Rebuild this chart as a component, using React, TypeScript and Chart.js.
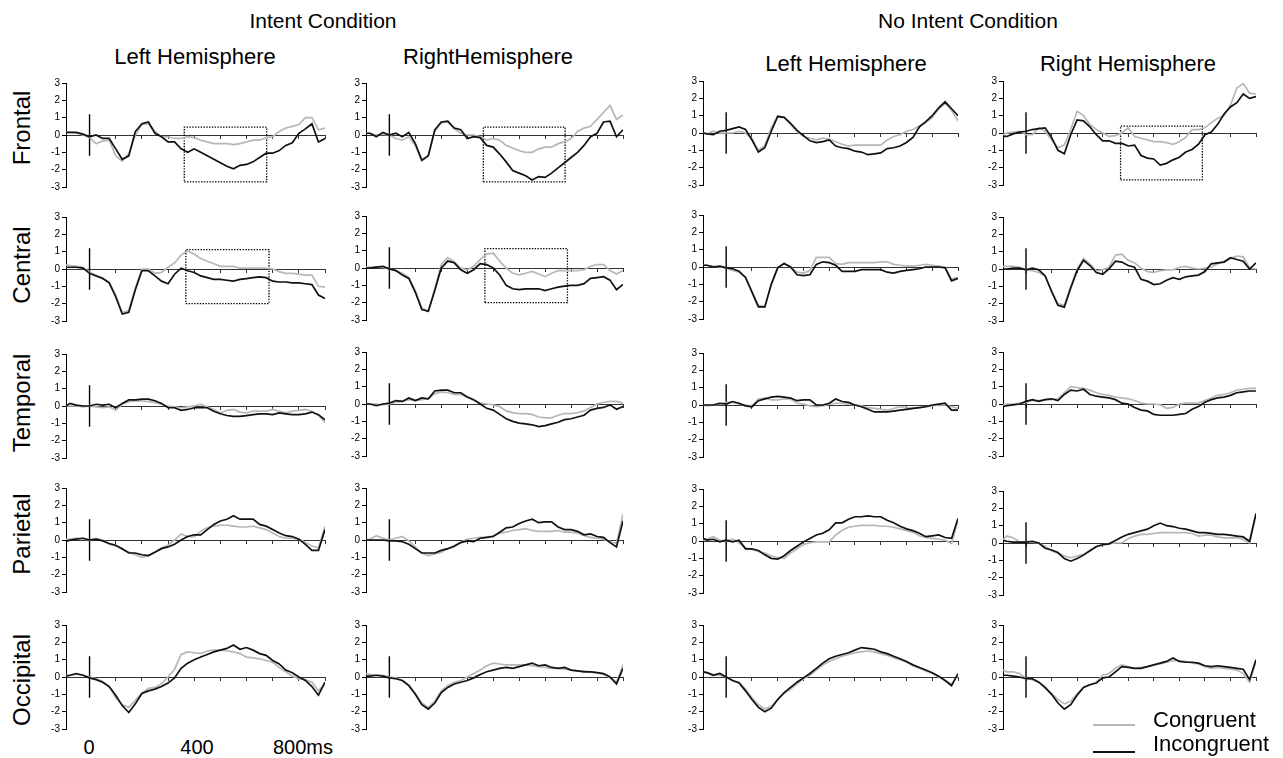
import React, { useEffect, useRef } from "react";
import { Chart, registerables } from "chart.js";
Chart.register(...registerables);

const FONT = '"Liberation Sans", Arial, Helvetica, sans-serif';
Chart.defaults.font.family = FONT;

// ---------- data ----------
const TIMES = [-90, -75, -50, -25, 0, 25, 50, 75, 100, 125, 150, 175, 200, 225, 250, 275, 300, 325, 350, 375, 400, 425, 450, 475, 500, 525, 550, 575, 600, 625, 650, 675, 700, 725, 750, 775, 800, 825, 850, 875, 900];
const X_TICKS = [0, 100, 200, 300, 400, 500, 600, 700, 800, 900];
const Y_TICKS = [-3, -2, -1, 0, 1, 2, 3];
const X_MIN = -90;
const X_MAX = 900;
const Y_MIN = -3;
const Y_MAX = 3;
const STIMULUS_MS = 0;
const STIMULUS_HALF = 1.2;

const CONDITIONS = ["Intent Condition", "No Intent Condition"];
const HEMISPHERES = ["Left Hemisphere", "RightHemisphere", "Left Hemisphere", "Right Hemisphere"];
const REGIONS = ["Frontal", "Central", "Temporal", "Parietal", "Occipital"];
const X_LABELS = ["0", "400", "800ms"];
const LEGEND_LABELS = ["Congruent", "Incongruent"];

// Frontal
const F_IL_CON = [0.15,0.15,0.1,0.0,-0.15, -0.5,-0.35,-0.3,-1.2,-1.5, -1.1,0.0,0.6,0.65,0.2, -0.1,-0.1,-0.2,-0.2,-0.1, -0.15,-0.3,-0.4,-0.5,-0.5, -0.5,-0.55,-0.5,-0.4,-0.3, -0.3,-0.15,-0.1,0.2,0.4, 0.5,0.6,1.0,1.0,0.3, 0.4];
const F_IL_INC = [0.15,0.15,0.15,0.05,-0.1, 0.0,-0.2,-0.2,-0.8,-1.4, -1.2,0.2,0.65,0.75,0.1, -0.1,-0.4,-0.4,-0.8,-1.0, -0.8,-1.0,-1.2,-1.4,-1.6, -1.8,-1.95,-1.75,-1.7,-1.55, -1.3,-1.05,-1.05,-0.9,-0.6, -0.45,0.1,0.35,0.65,-0.4, -0.2];
const F_IR_CON = [0.1,0.1,0.0,0.05,0.0, -0.2,-0.3,-0.1,-0.6,-1.5, -1.2,0.2,0.7,0.75,0.35, 0.1,0.0,0.0,-0.1,-0.3, -0.2,-0.3,-0.6,-0.75,-0.9, -1.0,-1.0,-0.8,-0.7,-0.7, -0.5,-0.4,-0.2,0.2,0.4, 0.5,0.9,1.3,1.7,0.9, 1.15];
const F_IR_INC = [0.1,0.1,-0.1,0.15,0.0, 0.1,-0.1,0.15,-0.5,-1.45, -1.2,0.3,0.75,0.8,0.4, 0.3,-0.2,-0.1,-0.15,-0.6, -0.7,-1.1,-1.55,-2.05,-2.2, -2.35,-2.6,-2.4,-2.45,-2.2, -1.9,-1.6,-1.3,-1.0,-0.6, -0.1,0.1,0.75,0.8,-0.1, 0.3];
const F_NL_CON = [0.0,-0.05,0.1,0.0,0.0, 0.0,0.1,0.0,-0.3,-1.0, -0.7,0.3,1.0,0.9,0.5, 0.1,-0.2,-0.3,-0.4,-0.3, -0.35,-0.5,-0.65,-0.75,-0.7, -0.7,-0.7,-0.7,-0.7,-0.4, -0.2,-0.1,0.1,0.2,0.4, 0.6,0.9,1.4,1.7,1.3, 0.7];
const F_NL_INC = [0.0,-0.05,-0.1,0.1,0.15, 0.25,0.35,0.2,-0.4,-1.1, -0.85,0.1,0.95,0.9,0.55, 0.15,-0.15,-0.45,-0.55,-0.5, -0.4,-0.75,-0.85,-0.9,-1.05, -1.1,-1.25,-1.2,-1.15,-0.9, -0.85,-0.75,-0.55,-0.25,0.35, 0.65,1.0,1.45,1.8,1.4, 1.0];
const F_NR_CON = [-0.1,0.0,0.05,0.1,-0.1, -0.1,0.3,0.1,-0.4,-0.85, -0.7,0.2,1.25,1.0,0.5, 0.2,0.0,-0.2,-0.15,0.0, 0.3,-0.2,-0.3,-0.4,-0.5, -0.5,-0.55,-0.65,-0.5,-0.25, 0.2,0.2,0.3,0.6,0.85, 1.0,1.6,2.6,2.85,2.3, 2.25];
const F_NR_INC = [-0.2,-0.2,-0.05,0.05,0.1, 0.2,0.25,0.3,-0.25,-1.0, -1.2,-0.1,0.75,0.7,0.35, -0.1,-0.45,-0.45,-0.6,-0.6, -0.75,-0.7,-1.3,-1.45,-1.5, -1.85,-1.75,-1.55,-1.4,-1.1, -0.95,-0.65,-0.1,0.05,0.5, 1.1,1.5,1.75,2.25,2.0, 2.1];

// Central
const C_IL_CON = [0.25,0.2,0.15,0.1,-0.2, -0.35,-0.5,-0.75,-1.5,-2.5, -2.4,-1.1,0.0,0.0,-0.25, -0.2,0.1,0.35,0.8,1.05, 0.85,0.6,0.45,0.3,0.15, 0.15,0.15,0.05,0.05,0.05, 0.05,0.05,0.0,-0.15,-0.25, -0.25,-0.3,-0.35,-0.35,-1.0, -1.05];
const C_IL_INC = [0.1,0.1,0.1,0.05,-0.25, -0.4,-0.55,-0.8,-1.6,-2.6, -2.5,-1.2,-0.1,-0.1,-0.4, -0.7,-0.85,-0.3,0.05,-0.1, -0.2,-0.4,-0.5,-0.6,-0.6, -0.65,-0.7,-0.6,-0.55,-0.5, -0.45,-0.5,-0.7,-0.75,-0.75, -0.8,-0.8,-0.85,-0.9,-1.5, -1.7];
const C_IR_CON = [0.05,0.05,0.05,0.05,-0.05, -0.15,-0.3,-0.55,-1.3,-2.3, -2.5,-1.2,0.2,0.6,0.35, 0.0,-0.1,0.1,0.5,0.8, 0.85,0.4,0.0,-0.3,-0.4, -0.3,-0.2,-0.35,-0.5,-0.3, -0.15,-0.15,-0.15,-0.15,-0.1, 0.1,0.2,0.2,-0.15,-0.35, -0.15];
const C_IR_INC = [0.0,0.0,0.05,0.1,-0.05, -0.15,-0.4,-0.6,-1.4,-2.4, -2.5,-1.3,0.0,0.4,0.3, -0.1,-0.3,-0.1,0.25,0.2, 0.0,-0.4,-1.0,-1.2,-1.25, -1.2,-1.2,-1.2,-1.3,-1.2, -1.1,-1.05,-1.0,-1.0,-0.9, -0.6,-0.55,-0.5,-0.7,-1.25, -0.95];
const C_NL_CON = [0.1,0.1,0.05,0.0,-0.05, -0.2,-0.3,-0.6,-1.4,-2.2, -2.3,-1.0,0.0,0.2,0.0, -0.3,-0.35,-0.2,0.55,0.55, 0.55,0.2,0.15,0.25,0.25, 0.25,0.25,0.25,0.3,0.3, 0.15,0.1,0.05,0.05,0.1, 0.15,0.1,0.05,0.0,-0.7, -0.6];
const C_NL_INC = [0.1,0.1,0.0,0.05,-0.05, -0.1,-0.25,-0.6,-1.45,-2.3, -2.3,-1.0,-0.05,0.2,0.0, -0.45,-0.5,-0.45,0.15,0.3, 0.25,0.1,-0.25,-0.25,-0.25, -0.15,-0.15,-0.15,-0.15,-0.3, -0.35,-0.25,-0.2,-0.15,-0.1, 0.0,0.0,0.0,-0.05,-0.8, -0.65];
const C_NR_CON = [0.15,0.15,0.15,0.1,-0.05, -0.1,-0.2,-0.4,-1.25,-2.0, -2.1,-1.0,0.0,0.6,0.3, -0.1,-0.05,0.1,0.8,0.85, 0.5,0.35,0.05,-0.15,-0.2, -0.1,-0.05,-0.05,0.1,0.15, 0.05,0.0,0.05,0.1,0.3, 0.45,0.6,0.75,0.7,0.05, 0.0];
const C_NR_INC = [0.0,0.0,0.05,0.05,-0.05, 0.05,-0.05,-0.4,-1.3,-2.1, -2.2,-1.1,-0.1,0.5,0.2, -0.2,-0.3,0.0,0.45,0.4, 0.2,0.1,-0.6,-0.7,-0.9, -0.85,-0.65,-0.5,-0.6,-0.45, -0.4,-0.35,-0.15,0.3,0.35, 0.4,0.65,0.55,0.45,0.0, 0.35];

// Temporal
const T_IL_CON = [0.0,0.0,0.0,-0.05,0.0, -0.05,-0.1,-0.05,-0.25,0.1, 0.25,0.3,0.3,0.25,0.2, 0.1,0.0,-0.05,-0.1,-0.05, 0.0,0.1,-0.05,-0.2,-0.4, -0.25,-0.2,-0.35,-0.4,-0.3, -0.3,-0.3,-0.2,-0.3,-0.4, -0.3,-0.25,-0.2,-0.3,-0.55, -0.95];
const T_IL_INC = [0.0,0.15,0.05,0.0,0.0, 0.1,0.05,0.1,-0.1,0.15, 0.35,0.35,0.4,0.4,0.3, 0.15,-0.1,-0.1,-0.25,-0.2, -0.1,-0.1,-0.1,-0.3,-0.45, -0.55,-0.6,-0.6,-0.55,-0.5, -0.45,-0.45,-0.5,-0.4,-0.45, -0.5,-0.5,-0.45,-0.35,-0.5, -0.8];
const T_IR_CON = [0.0,0.0,0.0,-0.05,0.0, 0.1,0.15,0.25,0.2,0.25, 0.3,0.6,0.7,0.65,0.55, 0.55,0.4,0.2,0.05,0.0, -0.05,-0.15,-0.4,-0.5,-0.55, -0.55,-0.6,-0.75,-0.8,-0.8, -0.65,-0.55,-0.55,-0.5,-0.4, -0.2,0.0,0.1,0.15,0.15, 0.05];
const T_IR_INC = [0.0,0.0,-0.1,0.0,0.05, 0.2,0.15,0.35,0.2,0.35, 0.3,0.75,0.8,0.8,0.65, 0.65,0.4,0.25,0.0,-0.25, -0.35,-0.6,-0.85,-1.0,-1.1, -1.15,-1.2,-1.3,-1.25,-1.15, -1.05,-0.9,-0.85,-0.75,-0.65, -0.35,-0.25,-0.2,-0.05,-0.3, -0.15];
const T_NL_CON = [0.0,-0.05,0.0,0.05,0.15, 0.15,0.05,0.0,-0.05,0.35, 0.4,0.3,0.3,0.35,0.35, 0.1,0.05,-0.05,-0.1,-0.05, 0.05,0.1,0.1,0.05,0.0, -0.05,-0.15,-0.2,-0.25,-0.3, -0.2,-0.1,-0.15,-0.2,-0.15, -0.1,-0.05,0.0,0.0,-0.1, -0.2];
const T_NL_INC = [0.0,0.0,0.0,0.1,0.05, 0.2,0.1,-0.05,-0.1,0.25, 0.35,0.45,0.5,0.45,0.4, 0.25,0.3,0.3,0.0,0.0, 0.1,0.35,0.2,0.15,0.0, -0.1,-0.25,-0.4,-0.4,-0.4, -0.35,-0.3,-0.25,-0.2,-0.15, -0.1,0.0,0.05,0.1,-0.3, -0.3];
const T_NR_CON = [-0.05,0.0,0.0,0.05,0.1, 0.2,0.2,0.25,0.25,0.3, 0.65,1.0,0.95,0.9,0.8, 0.65,0.55,0.5,0.4,0.35, 0.3,0.2,0.05,0.0,0.0, -0.05,-0.25,-0.2,0.0,0.05, 0.05,0.05,0.2,0.35,0.5, 0.55,0.65,0.8,0.85,0.9, 0.9];
const T_NR_INC = [-0.15,-0.1,-0.05,0.0,0.15, 0.25,0.15,0.25,0.3,0.2, 0.55,0.8,0.75,0.85,0.55, 0.45,0.4,0.35,0.25,0.05, 0.0,-0.2,-0.35,-0.4,-0.6, -0.65,-0.65,-0.65,-0.6,-0.55, -0.3,-0.15,0.1,0.25,0.35, 0.4,0.5,0.65,0.7,0.75, 0.75];

// Parietal
const P_IL_CON = [0.05,0.05,0.1,0.1,0.0, 0.1,0.0,-0.25,-0.35,-0.55, -0.7,-0.85,-1.0,-0.9,-0.7, -0.45,-0.3,0.0,0.35,0.2, 0.2,0.5,0.7,0.8,0.85, 0.85,0.8,0.75,0.75,0.8, 0.7,0.6,0.4,0.2,0.1, 0.1,0.05,-0.15,-0.35,-0.45, 0.8];
const P_IL_INC = [-0.1,0.0,0.05,0.1,0.0, 0.05,-0.05,-0.2,-0.3,-0.5, -0.75,-0.75,-0.85,-0.9,-0.7, -0.5,-0.4,-0.25,0.0,0.2, 0.3,0.3,0.6,0.9,1.1, 1.2,1.4,1.2,1.2,1.2, 0.9,0.8,0.6,0.4,0.25, 0.2,0.05,-0.25,-0.6,-0.6, 0.6];
const P_IR_CON = [0.0,0.05,0.25,0.1,0.0, 0.1,0.2,-0.05,-0.4,-0.75, -0.9,-0.8,-0.7,-0.5,-0.4, -0.15,0.05,0.1,0.15,0.15, 0.25,0.4,0.45,0.55,0.6, 0.65,0.55,0.5,0.5,0.5, 0.55,0.45,0.45,0.4,0.25, 0.15,0.1,0.05,-0.1,-0.2, 1.5];
const P_IR_INC = [0.0,0.0,0.0,0.0,-0.05, -0.05,-0.1,-0.25,-0.5,-0.75, -0.75,-0.75,-0.6,-0.5,-0.35, -0.15,-0.05,-0.1,0.1,0.15, 0.2,0.45,0.7,0.75,0.95, 1.1,1.2,1.0,1.05,1.05, 0.75,0.6,0.6,0.5,0.3, 0.35,0.2,0.15,-0.15,-0.4, 1.1];
const P_NL_CON = [0.05,0.1,0.25,0.05,0.0, 0.1,-0.1,-0.4,-0.5,-0.6, -0.7,-0.85,-0.95,-1.0,-0.7, -0.45,-0.2,-0.1,-0.05,-0.05, -0.05,0.35,0.6,0.8,0.85, 0.9,0.9,0.9,0.85,0.85, 0.8,0.7,0.6,0.5,0.3, 0.2,0.15,0.1,0.05,-0.15, 1.2];
const P_NL_INC = [0.15,0.05,0.1,-0.05,0.05, -0.05,0.05,-0.45,-0.45,-0.55, -0.8,-1.0,-1.05,-0.85,-0.55, -0.3,-0.05,0.15,0.35,0.45, 0.65,1.05,1.05,1.25,1.4, 1.4,1.45,1.4,1.4,1.2, 1.05,0.85,0.7,0.6,0.45, 0.25,0.3,0.35,0.2,0.15, 1.3];
const P_NR_CON = [0.2,0.4,0.3,0.05,0.05, 0.05,0.0,-0.2,-0.45,-0.6, -0.75,-0.85,-0.75,-0.65,-0.45, -0.25,-0.1,-0.05,0.0,0.0, 0.25,0.4,0.5,0.5,0.55, 0.6,0.6,0.6,0.6,0.6, 0.55,0.4,0.45,0.45,0.35, 0.3,0.3,0.3,0.2,0.0, 1.6];
const P_NR_INC = [0.15,0.1,0.05,0.05,0.05, 0.1,0.0,-0.3,-0.4,-0.55, -0.9,-1.05,-0.9,-0.7,-0.45, -0.2,-0.1,-0.05,0.15,0.35, 0.5,0.6,0.7,0.8,1.0, 1.15,1.0,0.95,0.85,0.8, 0.7,0.6,0.6,0.55,0.5, 0.5,0.45,0.4,0.35,0.1, 1.7];

// Occipital
const O_IL_CON = [0.1,0.1,0.15,0.1,0.0, -0.1,-0.25,-0.55,-1.2,-1.6, -1.75,-1.35,-0.95,-0.65,-0.6, -0.4,0.0,0.45,1.3,1.45, 1.4,1.35,1.5,1.55,1.55, 1.5,1.45,1.35,1.15,1.1, 1.05,0.95,0.85,0.55,0.3, 0.05,-0.1,-0.15,-0.3,-0.8, -0.4];
const O_IL_INC = [0.05,0.1,0.2,0.1,-0.05, -0.15,-0.3,-0.55,-1.05,-1.65, -2.05,-1.55,-0.95,-0.8,-0.7, -0.55,-0.35,-0.05,0.5,0.8, 1.0,1.15,1.3,1.45,1.55, 1.65,1.85,1.6,1.7,1.55, 1.35,1.25,0.95,0.75,0.4, 0.25,0.0,-0.2,-0.55,-1.05, -0.3];
const O_IR_CON = [0.2,0.15,0.1,0.1,0.0, -0.05,-0.2,-0.45,-0.95,-1.5, -1.75,-1.4,-0.8,-0.5,-0.3, -0.2,0.0,0.2,0.4,0.65, 0.8,0.75,0.7,0.7,0.7, 0.7,0.65,0.6,0.55,0.5, 0.5,0.45,0.4,0.35,0.35, 0.3,0.25,0.15,-0.05,-0.3, 0.7];
const O_IR_INC = [0.05,0.05,0.1,0.05,-0.05, -0.1,-0.2,-0.5,-1.0,-1.6, -1.85,-1.5,-0.9,-0.6,-0.4, -0.3,-0.2,-0.05,0.15,0.3, 0.4,0.5,0.55,0.5,0.6, 0.7,0.8,0.65,0.7,0.55, 0.5,0.55,0.4,0.35,0.3, 0.3,0.25,0.2,0.0,-0.4, 0.5];
const O_NL_CON = [0.3,0.25,0.15,0.1,0.0, -0.2,-0.3,-0.7,-1.2,-1.6, -1.85,-1.7,-1.3,-0.95,-0.7, -0.4,-0.1,0.1,0.4,0.7, 0.9,1.05,1.2,1.3,1.4, 1.45,1.5,1.45,1.35,1.25, 1.1,1.0,0.85,0.65,0.5, 0.35,0.2,0.0,-0.2,-0.4, 0.1];
const O_NL_INC = [0.3,0.25,0.1,0.2,0.0, -0.2,-0.35,-0.8,-1.3,-1.75, -2.0,-1.8,-1.3,-0.9,-0.6, -0.3,-0.05,0.2,0.5,0.8, 1.05,1.2,1.3,1.4,1.55, 1.7,1.65,1.6,1.45,1.35, 1.2,1.05,0.9,0.7,0.55, 0.4,0.25,0.05,-0.2,-0.5, 0.2];
const O_NR_CON = [0.4,0.3,0.3,0.2,-0.1, -0.15,-0.3,-0.65,-0.95,-1.3, -1.55,-1.4,-0.95,-0.6,-0.45, -0.3,0.1,0.2,0.5,0.7, 0.6,0.5,0.55,0.6,0.7, 0.75,0.85,0.95,0.95,0.9, 0.8,0.75,0.6,0.5,0.55, 0.5,0.45,0.4,0.2,-0.3, 0.9];
const O_NR_INC = [0.1,0.1,0.05,0.0,-0.1, -0.1,-0.3,-0.6,-1.0,-1.5, -1.85,-1.6,-1.05,-0.6,-0.45, -0.35,-0.05,0.0,0.3,0.6, 0.55,0.5,0.5,0.6,0.7, 0.8,0.9,1.1,0.9,0.85, 0.85,0.8,0.65,0.6,0.65, 0.6,0.55,0.5,0.45,-0.15, 1.0];

// analysis windows (ms start, ms end, µV low, µV high)
const WIN_FRONTAL_INTENT = [362, 677, -2.7, 0.45];
const WIN_FRONTAL_NOINTENT = [370, 690, -2.7, 0.4];
const WIN_CENTRAL_INTENT = [368, 686, -2.0, 1.12];

// [row][col] -> [congruent, incongruent, window]
const GRID: [number[], number[], number[] | null][][] = [
  [[F_IL_CON, F_IL_INC, WIN_FRONTAL_INTENT], [F_IR_CON, F_IR_INC, WIN_FRONTAL_INTENT], [F_NL_CON, F_NL_INC, null], [F_NR_CON, F_NR_INC, WIN_FRONTAL_NOINTENT]],
  [[C_IL_CON, C_IL_INC, WIN_CENTRAL_INTENT], [C_IR_CON, C_IR_INC, WIN_CENTRAL_INTENT], [C_NL_CON, C_NL_INC, null], [C_NR_CON, C_NR_INC, null]],
  [[T_IL_CON, T_IL_INC, null], [T_IR_CON, T_IR_INC, null], [T_NL_CON, T_NL_INC, null], [T_NR_CON, T_NR_INC, null]],
  [[P_IL_CON, P_IL_INC, null], [P_IR_CON, P_IR_INC, null], [P_NL_CON, P_NL_INC, null], [P_NR_CON, P_NR_INC, null]],
  [[O_IL_CON, O_IL_INC, null], [O_IR_CON, O_IR_INC, null], [O_NL_CON, O_NL_INC, null], [O_NR_CON, O_NR_INC, null]],
];

// ---------- layout ----------
const COL_LEFT = [66, 366, 703, 1003];
const COL_RIGHT = [325, 623, 958, 1256];
const ROW_ZERO = [
  [134.5, 268.5, 406, 540, 676.7],
  [134.5, 267.5, 404, 540, 676.5],
  [133, 267, 404.5, 541, 677],
  [133.3, 269, 403.7, 542.5, 676.7],
];
const HALF_PX = 52;
const PAD_V = 10;
const PAD_R = 6;
const AXIS_W = 30;

const GRAY = "#b7b7b7";
const BLACK = "#111111";

function Panel({ col, row }: { col: number; row: number }) {
  const ref = useRef<HTMLCanvasElement | null>(null);
  const [con, inc, win] = GRID[row][col];
  const plotW = COL_RIGHT[col] - COL_LEFT[col];
  const w = AXIS_W + plotW + PAD_R;
  const h = HALF_PX * 2 + PAD_V * 2;
  const left = COL_LEFT[col] - AXIS_W;
  const top = Math.round(ROW_ZERO[col][row] - HALF_PX) - PAD_V;

  useEffect(() => {
    if (!ref.current) return;
    const pts = (vals: number[]) => TIMES.map((t, i) => ({ x: t, y: vals[i] }));
    const datasets: any[] = [
      { data: pts(inc), borderColor: BLACK, borderWidth: 1.7, pointRadius: 0, tension: 0, fill: false },
      { data: pts(con), borderColor: GRAY, borderWidth: 1.7, pointRadius: 0, tension: 0, fill: false },
      {
        data: [{ x: STIMULUS_MS, y: STIMULUS_HALF }, { x: STIMULUS_MS, y: -STIMULUS_HALF }],
        borderColor: "#000", borderWidth: 1.4, pointRadius: 0, fill: false,
      },
    ];
    if (win) {
      const [t0, t1, v0, v1] = win;
      datasets.push({
        data: [{ x: t0, y: v0 }, { x: t1, y: v0 }, { x: t1, y: v1 }, { x: t0, y: v1 }, { x: t0, y: v0 }],
        borderColor: "#000", borderWidth: 1.3, borderDash: [1.4, 1.4], pointRadius: 0, fill: false,
      });
    }
    const chart = new Chart(ref.current, {
      type: "line",
      data: { datasets },
      options: {
        animation: false,
        responsive: false,
        maintainAspectRatio: false,
        devicePixelRatio: 1,
        events: [],
        layout: { padding: { left: 0, right: PAD_R, top: PAD_V, bottom: PAD_V } },
        plugins: { legend: { display: false }, tooltip: { enabled: false }, title: { display: false } },
        scales: {
          x: {
            type: "linear",
            min: X_MIN,
            max: X_MAX,
            position: { y: 0 } as any,
            afterBuildTicks: (s: any) => { s.ticks = X_TICKS.map((v) => ({ value: v })); },
            ticks: { display: false },
            grid: { drawOnChartArea: false, drawTicks: true, tickLength: 3, color: "#333", lineWidth: 1 },
            border: { display: true, color: "#333", width: 1 },
          },
          y: {
            type: "linear",
            min: Y_MIN,
            max: Y_MAX,
            afterBuildTicks: (s: any) => { s.ticks = Y_TICKS.map((v) => ({ value: v })); },
            afterFit: (s: any) => { s.width = AXIS_W; },
            ticks: { font: { family: FONT, size: 10 }, color: "#000", padding: 2 },
            grid: { drawOnChartArea: false, drawTicks: true, tickLength: 4, color: "#000", lineWidth: 1 },
            border: { display: true, color: "#000", width: 1 },
          },
        },
      } as any,
    });
    return () => chart.destroy();
  }, [col, row]);

  return (
    <canvas
      ref={ref}
      width={w}
      height={h}
      style={{ position: "absolute", left, top, width: w, height: h }}
    />
  );
}

const textBase: React.CSSProperties = {
  position: "absolute",
  fontFamily: FONT,
  lineHeight: 1,
  whiteSpace: "nowrap",
  color: "#000",
};

export default function App() {
  const condCenters = [323, 968];
  const hemiCenters = [195, 488, 846, 1128];
  const hemiBaselines = [65, 65, 72, 72];
  const rowCenters = [128, 265, 403, 534, 680];
  const xLabelPos = [[89, "center"], [197, "center"], [273, "left"]] as const;

  return (
    <div style={{ position: "absolute", left: 0, top: 0, width: 1283, height: 758, background: "#fff", overflow: "hidden" }}>
      {CONDITIONS.map((c, i) => (
        <div key={"c" + i} style={{ ...textBase, fontSize: 21, left: condCenters[i], top: 28 - 0.85 * 21, transform: "translateX(-50%)" }}>{c}</div>
      ))}
      {HEMISPHERES.map((hm, i) => (
        <div key={"h" + i} style={{ ...textBase, fontSize: 22, left: hemiCenters[i], top: hemiBaselines[i] - 0.85 * 22, transform: "translateX(-50%)" }}>{hm}</div>
      ))}
      {REGIONS.map((r, i) => (
        <div key={"r" + i} style={{ ...textBase, fontSize: 24, left: 22, top: rowCenters[i], transform: "translate(-50%, -50%) rotate(-90deg)" }}>{r}</div>
      ))}
      {X_LABELS.map((l, i) => (
        <div key={"x" + i} style={{ ...textBase, fontSize: 20, left: xLabelPos[i][0], top: 754 - 0.85 * 20, transform: xLabelPos[i][1] === "center" ? "translateX(-50%)" : "none" }}>{l}</div>
      ))}
      {[0, 1, 2, 3].map((col) => [0, 1, 2, 3, 4].map((row) => <Panel key={col + "-" + row} col={col} row={row} />))}
      {LEGEND_LABELS.map((l, i) => (
        <React.Fragment key={"l" + i}>
          <div style={{ position: "absolute", left: 1093, width: 42, top: (i === 0 ? 724 : 751), height: 2, background: i === 0 ? GRAY : BLACK }} />
          <div style={{ ...textBase, fontSize: 22, left: 1153, top: (i === 0 ? 728 : 752) - 0.85 * 22 }}>{l}</div>
        </React.Fragment>
      ))}
    </div>
  );
}
